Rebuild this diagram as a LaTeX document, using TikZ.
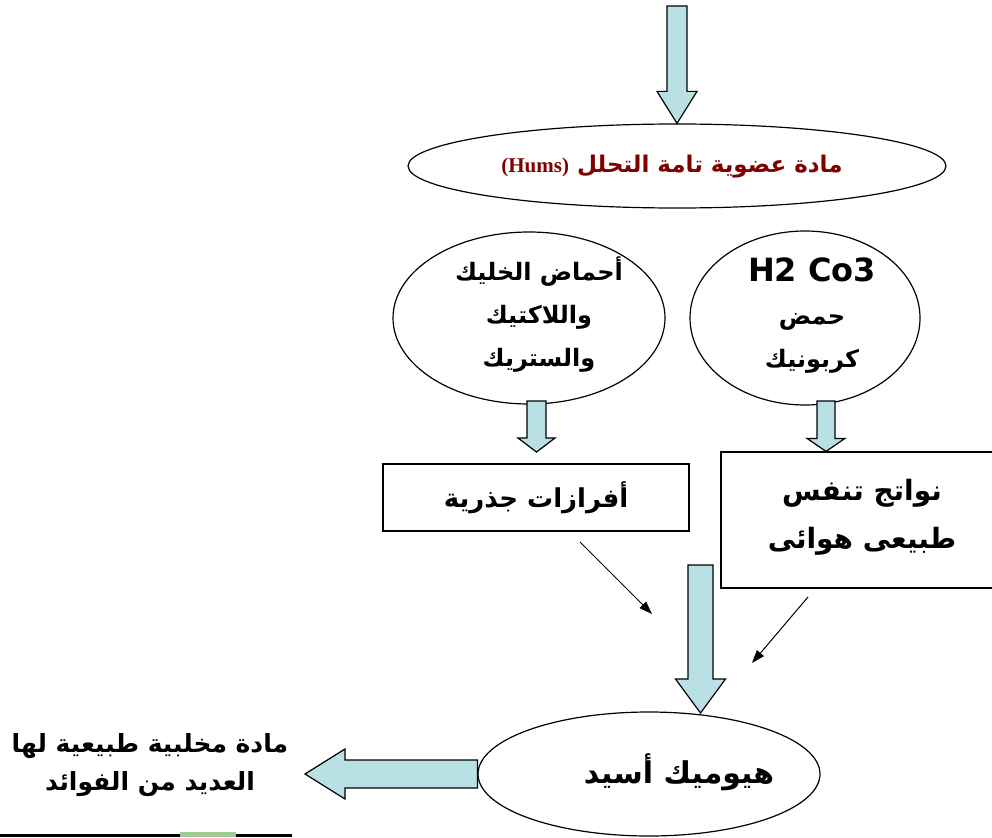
\documentclass[tikz,border=0pt]{standalone}
\usepackage{fontspec}
\usetikzlibrary{shapes.geometric,arrows.meta,calc}
\TeXXeTstate=1
\newfontfamily\arabicfont[Script=Arabic]{DejaVu Sans}
\newfontfamily\latinserif{Liberation Serif}
\newfontfamily\latinsans{DejaVu Sans}
\definecolor{arrowfill}{RGB}{185,224,228}
\definecolor{darkred}{RGB}{128,0,0}
\definecolor{leafgreen}{RGB}{160,200,150}
\newcommand\blkdown[5]{%
  \draw[blk] let \p1=(#1), \p2=(#2) in
  (\x1-#3pt,\y1) -- (\x1+#3pt,\y1) -- (\x1+#3pt,\y2+#5pt) -- (\x1+#4pt,\y2+#5pt)
  -- (\x1,\y2) -- (\x1-#4pt,\y2+#5pt) -- (\x1-#3pt,\y2+#5pt) -- cycle;}
\newcommand\blkleft[5]{%
  \draw[blk] let \p1=(#1), \p2=(#2) in
  (\x1,\y1-#3pt) -- (\x1,\y1+#3pt) -- (\x2+#5pt,\y1+#3pt) -- (\x2+#5pt,\y1+#4pt)
  -- (\x2,\y1) -- (\x2+#5pt,\y1-#4pt) -- (\x2+#5pt,\y1-#3pt) -- cycle;}
\begin{document}
\begin{tikzpicture}[x=1pt,y=-1pt,
  ell/.style={draw, ellipse, inner sep=0pt, line width=1.2pt, fill=white, align=center},
  boxnode/.style={draw, rectangle, inner sep=0pt, line width=1.2pt, fill=white, align=center},
  blk/.style={draw, line width=1.2pt, fill=arrowfill, line join=miter},
  thinarrow/.style={draw, line width=1pt, -{Triangle[length=13pt,width=9pt]}},
  txt/.style={align=center, inner sep=0pt}]
\useasboundingbox (0,0) rectangle (992,837);
\clip (0,0) rectangle (992,837);

% ellipses
\node[ell, minimum width=538pt, minimum height=84pt] (hum) at (677,166) {};
\node[txt, font=\arabicfont\bfseries\fontsize{23}{26}\selectfont, text=darkred] (humt) at (672,167)
  {\beginR مادة عضوية تامة التحلل \beginL{\latinserif\bfseries\fontsize{21}{26}\selectfont(Hums)}\endL\endR};

\node[ell, minimum width=272pt, minimum height=172pt] (lc) at (529,318) {};
\node[txt, font=\arabicfont\bfseries\fontsize{24}{43}\selectfont] (lct) at (539,315)
  {\beginR أحماض الخليك\endR\\\beginR واللاكتيك\endR\\\beginR والستريك\endR};

\node[ell, minimum width=230pt, minimum height=174pt] (rc) at (805,318) {};
\node[txt, font=\arabicfont\bfseries\fontsize{24}{43}\selectfont] (rct) at (812,316)
  {{\latinsans\bfseries\fontsize{32}{43}\selectfont H2 Co3}\\\beginR حمض\endR\\\beginR كربونيك\endR};

% boxes
\node[boxnode, minimum width=306pt, minimum height=67pt,
  font=\arabicfont\bfseries\fontsize{26}{30}\selectfont] (b1) at (536,497.5)
  {\beginR أفرازات جذرية\endR};
\node[boxnode, minimum width=279pt, minimum height=136pt] (b2) at (860.5,520) {};
\node[txt, font=\arabicfont\bfseries\fontsize{28}{48}\selectfont] (b2t) at (862,517)
  {\beginR نواتج تنفس\endR\\\beginR طبيعى هوائى\endR};

% bottom ellipse
\node[ell, minimum width=342pt, minimum height=124pt] (bot) at (649,774) {};
\node[txt, font=\arabicfont\bfseries\fontsize{30}{34}\selectfont] (bott) at (679,772)
  {\beginR هيوميك أسيد\endR};

% output text
\node[txt, font=\arabicfont\bfseries\fontsize{25}{38}\selectfont] (out) at (150,765)
  {\beginR مادة مخلبية طبيعية لها\endR\\\beginR العديد من الفوائد\endR};

% block arrows
\coordinate (topstart) at (677,6);
\blkdown{topstart}{hum.north}{10}{20}{32}
\coordinate (la) at (536.5,401);
\coordinate (laend) at (536.5,452);
\blkdown{la}{laend}{9.5}{18.5}{14}
\coordinate (ra) at (826,401);
\blkdown{ra}{b2.north}{9}{19}{13}
\coordinate (ma) at (700.5,565);
\coordinate (maend) at (700.5,713);
\blkdown{ma}{maend}{12.5}{25}{34}
\coordinate (lt) at (305,774);
\blkleft{bot.west}{lt}{14}{25}{40}

% thin arrows
\coordinate (t1s) at (580,542);
\coordinate (t1e) at (652,614);
\coordinate (t2s) at (808,597);
\coordinate (t2e) at (752,663);
\draw[thinarrow] (t1s) -- (t1e);
\draw[thinarrow] (t2s) -- (t2e);

% bottom strip
\draw[line width=3pt] (0,835.5) -- (292,835.5);
\fill[leafgreen] (180,832) rectangle (236,837);
\end{tikzpicture}
\end{document}
